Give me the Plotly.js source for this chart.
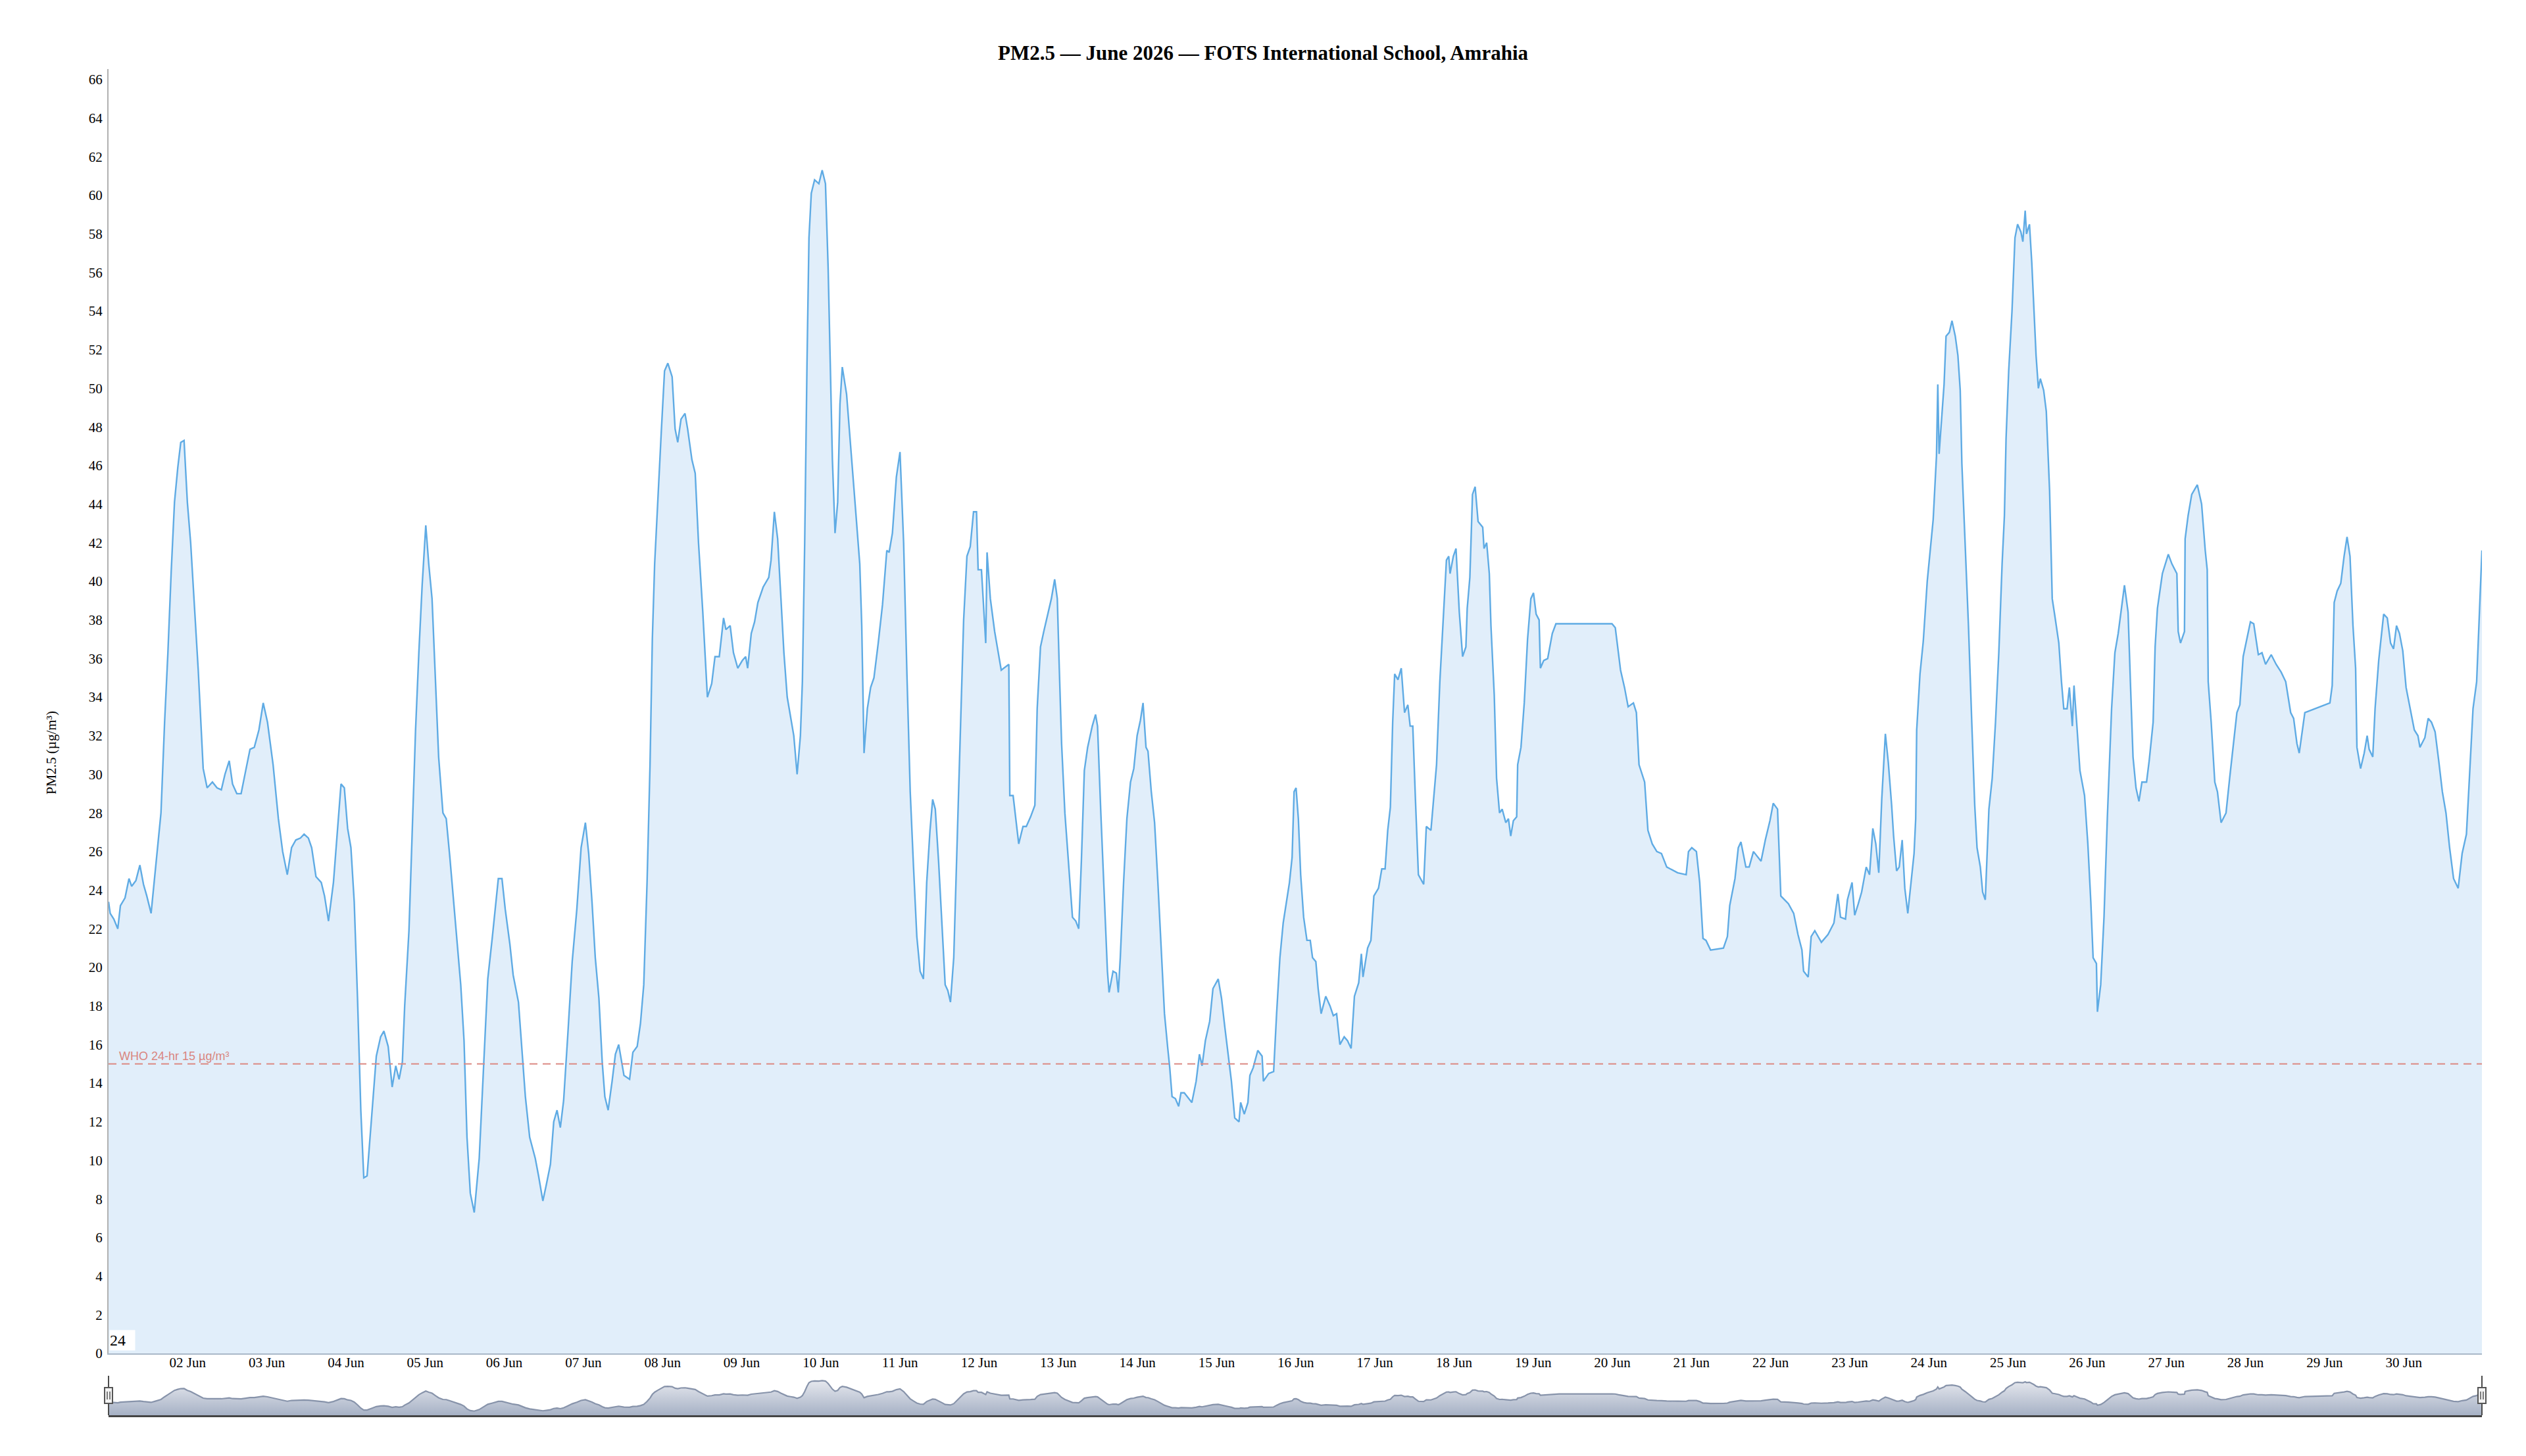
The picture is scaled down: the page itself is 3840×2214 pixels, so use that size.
<!DOCTYPE html>
<html><head><meta charset="utf-8">
<script src="https://cdn.plot.ly/plotly-3.0.1.min.js"></script>
<style>html,body{margin:0;padding:0;background:#fff}#chart{width:3840px;height:2214px}</style>
</head><body><div id="chart"></div>
<script>
// PM2.5 readings, hours since 2026-06-01 00:00
const hoursJun01 = [0,0.5,1.6,2.8,3.6,5,6.2,7,8.3,9.5,10.6,11.6,12.9,14.2,15.9,17,18,19,20,21,21.9,22.9,23.9,24.9,26.3,27.2,28.7,29.9,31.5,32.9,34.2,35.3,36.6,37.6,38.9,40.2,41.6,42.9,44.2,45.6,46.9,48.2,49.9,51.5,52.8,54.2,55.5,56.8,58.2,59.3,60.6,61.6,62.9,64.5,65.5,66.7,68.2,69.5,70.5,71.5,72.5,73.5,74.5,75.5,76.5,77.4,78.4,79.8,81.2,82.5,83.5,84.8,86,87.1,88.1,89.1,89.8,91.1,92.1,93.1,94.1,95.1,96.2,97.1,98.1,99.1,100.1,101.4,102.4];
const pmJun01 = [23.4,22.8,22.5,22.0,23.2,23.6,24.6,24.2,24.5,25.3,24.3,23.7,22.8,25.0,28.0,32.7,36.3,40.5,44.1,45.9,47.2,47.3,44.1,42.0,38.0,35.4,30.3,29.3,29.6,29.3,29.2,30.0,30.7,29.5,29.0,29.0,30.2,31.3,31.4,32.3,33.7,32.7,30.5,27.7,26.0,24.8,26.2,26.6,26.7,26.9,26.7,26.2,24.7,24.4,23.7,22.4,24.4,27.3,29.5,29.3,27.2,26.2,23.4,18.4,12.6,9.1,9.2,12.3,15.4,16.4,16.7,15.9,13.8,14.9,14.2,15.1,18.0,21.9,26.9,32.3,36.3,39.8,42.9,40.9,39.1,34.8,30.9,28.0,27.7];

const hoursJun05 = [103.5,105.1,106.8,107.8,108.7,109.7,110.9,112.4,113.7,115,116.4,118.2,119.3,120.3,121.7,122.7,124.3,125.3,126.4,127.7,129.4,130.4,131.7,132.7,134,135,136,137,138,139.3,140.6,142,143.3,144.6,145.6,146.6,147.6,148.7,149.7,150.5,151.5,152.7,153.7,154.7,156.3,158,159,160.3,161.3,162.3,163.3,164.2,164.9,165.6,166.6,167.6,168.6,169.6,170.9,171.8,172.6,173.6,174.8,175.6,176.9,177.9,178.9,180.2,181.6,182.9,183.9,185.2,186.5,187.2,188.5,189.5,190.8,192.2,193.2,193.8,194.9,195.9,196.9,198.5,200.2,200.9,201.9,202.9,203.9,204.8];
const pmJun05 = [25.7,22.6,19.1,16.2,11.2,8.3,7.3,10.1,14.8,19.4,21.6,24.6,24.6,23.0,21.2,19.6,18.2,15.8,13.3,11.2,10.1,9.2,7.9,8.7,9.8,12.0,12.6,11.7,13.1,16.6,20.3,23.0,26.2,27.5,25.9,23.4,20.5,18.4,15.1,13.3,12.6,14.1,15.5,16.0,14.4,14.2,15.6,15.9,17.1,19.1,24.4,30.5,37.0,40.9,44.5,47.7,50.9,51.3,50.6,47.9,47.2,48.4,48.7,47.9,46.3,45.6,42.0,38.4,34.0,34.7,36.1,36.1,38.1,37.5,37.7,36.3,35.5,35.9,36.1,35.5,37.3,37.9,38.9,39.7,40.2,41.1,43.6,42.2,39.1,36.3];

const hoursJun09 = [205.8,206.8,207.8,208.8,209.8,210.4,211.1,211.8,212.4,213.1,214.1,215.4,216.4,217.4,218.2,218.8,219.5,220.3,221.1,221.8,222.5,223.8,225.1,226.4,227.8,228.4,229.1,230.1,231.1,232.1,233.4,234.7,236,236.7,237.7,238.9,240,241.1,242.1,243.1,244.1,245.1,246.1,247.1,248.1,249.1,249.9,250.7,251.7,252.7,253.7,254.5,255.3,256.3,257.3,258.3,259.3,260.3,261.3,262.3,263.2,263.7,264.7,266,266.4,267.4,268.7,269.7,270.7,273,273.3,274.3,276,277.3,278.3,279.6,280.9,281.6,282.6,283.6,284.9,285.9,286.9,287.7,288.3,289,290,291,292.3,293.3,294.2,295,295.9,296.9,298.3,299.3,299.9,300.9,301.9,302.9,303.4,304.6,305.6,306.2,306.8];
const pmJun09 = [34.0,33.0,32.0,30.0,32.0,34.8,42.0,51.3,57.8,60.1,60.8,60.6,61.3,60.6,56.3,51.7,46.3,42.5,44.1,49.2,51.1,49.7,47.0,44.0,40.9,37.7,31.1,33.4,34.5,35.0,36.8,38.8,41.6,41.5,42.5,45.4,46.7,42.0,35.2,29.1,25.2,21.6,19.8,19.4,24.4,27.1,28.7,28.2,25.5,22.3,19.1,18.8,18.2,20.5,26.2,31.6,38.0,41.3,41.8,43.6,43.6,40.6,40.6,36.8,41.5,39.1,37.4,36.4,35.4,35.7,28.9,28.9,26.4,27.3,27.3,27.8,28.4,33.4,36.6,37.4,38.4,39.1,40.1,39.1,35.5,31.6,28.0,25.5,22.6,22.4,22.0,25.5,30.2,31.4,32.5,33.1,32.5,28.0,23.7,19.8,18.7,19.8,19.7,18.7,20.5];

const hoursJun13 = [307.8,308.8,309.9,310.9,311.9,312.9,313.7,314.6,315.2,316.2,317.2,318.2,319.2,320.2,321.2,321.8,322.5,323.5,324.5,325.2,326.2,327.1,328.5,329.8,330.8,331.6,332.6,333.9,334.9,336.5,337.5,338.5,339.5,340.5,341.5,342.8,343.3,344.4,345.5,346.1,347.1,348.5,349.8,350.2,351.8,353.3,354.2,355.2,356.2,357.2,358.1,358.9,359.5,360.1,360.8,361.5,362.4,363.4,364.4,365.1,366.1,366.8,367.7,369.1,370.4,371.4,372.4,373.4,374.7,375.7,376.8,377.8,379.1,379.9,380.4,381.8,382.8,383.7,385.1,386.1,387.1,387.9,388.7,389.4,390,391,392,393,394,394.7,395.5,396.3,397.2,398.8,399.6,401,402,402.7,403.7,404.7,405.7,406.4,406.8,407.8];
const pmJun13 = [24.4,27.7,29.6,30.3,32.0,32.8,33.7,31.4,31.2,29.1,27.5,24.4,20.9,17.6,15.8,14.8,13.3,13.2,12.8,13.5,13.5,13.3,13.0,14.1,15.5,14.9,16.2,17.2,18.9,19.4,18.4,16.9,15.5,14.1,12.2,12.0,13.0,12.4,13.0,14.4,14.8,15.7,15.4,14.1,14.5,14.6,17.6,20.5,22.3,23.4,24.4,25.7,29.1,29.3,27.7,24.8,22.6,21.4,21.4,20.5,20.3,18.9,17.6,18.5,18.0,17.5,17.6,16.0,16.4,16.2,15.8,18.5,19.2,20.7,19.5,21.0,21.4,23.7,24.1,25.1,25.1,27.1,28.3,32.7,35.2,34.9,35.5,33.2,33.6,32.5,32.5,28.7,24.8,24.3,27.3,27.1,29.1,30.5,34.8,38.0,41.1,41.3,40.4,41.3];

const hoursJun18 = [408.6,409.6,410.6,411.6,412,412.8,413.6,414.4,415.3,416.7,417.1,417.9,418.7,419.2,420.2,420.9,421.8,422.6,423.7,424.5,425.2,426,427,427.3,428.3,429.3,430.3,431.3,432.1,432.9,433.8,434.2,435.2,436.4,437.8,438.9,439.9,455.9,456.9,457.9,458.5,459.7,460.8,462.4,463.3,464.1,465.8,466.8,468.1,469.5,470.9,472.5,475.8,478.4,479.1,480.1,481.5,482.5,483.5,484.4,485.8,489.7,490.9,491.6,493.2,494.2,495,496.5,497.5,498.8,500.1,501.1,502.4,503.8,504.8,506.1,507.1,509.4];
const pmJun18 = [41.7,38.4,36.1,36.6,38.6,40.2,44.5,44.9,43.1,42.8,41.7,42.0,40.4,37.7,34.1,29.8,28.0,28.2,27.5,27.7,26.8,27.6,27.8,30.5,31.4,33.7,37.0,39.1,39.4,38.3,38.0,35.5,35.9,36.0,37.3,37.8,37.8,37.8,37.6,36.3,35.4,34.5,33.5,33.7,33.2,30.5,29.6,27.1,26.4,26.0,25.9,25.2,24.9,24.8,26.0,26.2,26.0,24.4,21.5,21.4,20.9,21.0,21.6,23.2,24.6,26.2,26.5,25.2,25.2,26.0,25.7,25.5,26.6,27.6,28.5,28.2,23.7,23.3];

const hoursJun22 = [511,512.3,513.5,514,515.4,516.3,517.4,519.4,521.4,523.2,524.4,525.2,526.7,527.3,528.7,529.5,530.6,531.6,533,534,535,535.9,536.8,537.7,538.8,539.7,540.7,541.3,542.2,543,543.9,544.7,545.6,546.6,547.5,548,548.3,549.3,550.3,551.5,552.3,553.3,554.3,554.7,555.1,555.9,556.6,557.2,558.2,559,560,560.8,561.5,562,563,564,565,565.9,566.6,567.6,568.3,569.1,570.2,571.2,572.2,573.2,574.2,574.9,575.4,576.2,577.2,578.1,578.9,579.9,580.5,581.2,581.6,582.5,583.2,583.8,584.5,585.2,585.8,586.8,587.6,588.6,589.4,590.2,591.4,592.2,592.9,593.9,594.6,595.5,596,596.8,597.8,599.2,600.2,601.1,601.8,602.8,603.1,604.1,605.1,606.1,607.4,608.4,609.4];
const pmJun22 = [22.8,21.7,20.9,19.8,19.5,21.6,21.9,21.3,21.7,22.3,23.8,22.6,22.5,23.5,24.4,22.7,23.3,23.9,25.2,24.8,27.2,26.4,24.9,28.7,32.1,30.6,28.4,26.8,25.0,25.2,26.6,24.1,22.8,24.4,25.9,27.7,32.3,35.2,36.9,40.0,41.4,43.2,46.5,50.2,46.6,48.4,50.2,52.7,52.9,53.5,52.7,51.7,49.9,46.1,42.0,37.7,32.7,28.4,26.2,25.2,23.9,23.5,28.2,29.8,32.7,36.3,40.9,43.4,47.4,50.9,54.0,57.8,58.5,58.1,57.6,59.2,58.0,58.5,56.5,54.5,51.7,50.0,50.5,49.9,48.8,44.7,39.1,38.2,36.8,34.8,33.4,33.4,34.5,32.5,34.6,32.7,30.2,28.9,26.4,23.4,20.5,20.2,17.7,19.1,22.6,27.7,33.4,36.3,37.3];

const hoursJun26 = [611.3,612.4,613.1,613.9,614.8,615.7,616.6,618,618.8,620,620.6,621.3,622.8,624.6,625.7,627.2,627.6,628.3,629.5,629.7,630.6,631.7,633.4,634.7,635.8,636.4,636.7,637.6,638.7,639.5,640.6,642.1,643.2,644.3,645.4,646.3,647.3,648.4,649.5,650.5,651.9,653,654.1,655.8,657.3,658.8,660.2,661.7,662.6,663.6,664.3,666,673.6,674.3,674.9,675.8,676.9,677.9,678.8,679.7,680.6,681.4,681.8,682.9,684,684.9,685.5,686.6,687.3,688.4,689.9,691,692,692.9,693.8,694.7,695.7,696.7,698.1,699.2,700.3,700.9,702.4,703.4,704.4,705.5,706.6,707.7,708.8,709.9,711.1,712.5,713.7,715,715.9,717,718.1,719.2,719.7];
const pmJun26 = [39.8,38.4,34.8,30.9,29.3,28.6,29.6,29.6,30.7,32.7,36.6,38.6,40.4,41.4,40.9,40.4,37.4,36.8,37.4,42.2,43.4,44.5,45.0,44.0,41.6,40.6,34.8,32.7,29.6,29.1,27.5,28.0,29.8,31.4,33.2,33.6,36.1,37.0,37.9,37.8,36.2,36.3,35.7,36.2,35.7,35.3,34.8,33.2,32.9,31.6,31.1,33.2,33.7,34.6,38.9,39.5,39.9,41.3,42.3,41.3,37.7,35.5,31.4,30.3,31.1,32.0,31.3,30.9,33.4,35.9,38.3,38.1,36.8,36.5,37.7,37.3,36.4,34.5,33.2,32.3,32.0,31.4,31.9,32.9,32.7,32.2,30.7,29.1,28.0,26.2,24.6,24.1,25.9,26.9,29.8,33.4,34.8,39.1,41.6];

const whoLimit = 15;
const whoLabel = 'WHO 24-hr 15 µg/m³';
const titleText = 'PM2.5 — June 2026 — FOTS International School, Amrahia';
const yTitle = 'PM2.5 (µg/m³)';
const cornerLabel = '24';

const hours = [].concat(hoursJun01, hoursJun05, hoursJun09, hoursJun13, hoursJun18, hoursJun22, hoursJun26);
const pm25 = [].concat(pmJun01, pmJun05, pmJun09, pmJun13, pmJun18, pmJun22, pmJun26);

function pad(n){ return String(n).padStart(2,'0'); }
function stamp(h){
  const d = new Date(Date.UTC(2026,5,1,0,0,0) + Math.round(h*60)*60000);
  return d.getUTCFullYear()+'-'+pad(d.getUTCMonth()+1)+'-'+pad(d.getUTCDate())+' '+pad(d.getUTCHours())+':'+pad(d.getUTCMinutes());
}
const n = Math.min(hours.length, pm25.length);
const xs = hours.slice(0,n).map(stamp);
const ys = pm25.slice(0,n);
const xRange = [xs[0], xs[n-1]];
const tickDays = [];
for (let d = 2; d <= 30; d++) tickDays.push('2026-06-' + pad(d));

const serif = 'Liberation Serif, Times New Roman, serif';

const mainTrace = {
  x: xs, y: ys, type: 'scatter', mode: 'lines',
  line: {color: '#5fabe4', width: 2.4},
  fill: 'tozeroy', fillcolor: '#e1eefa',
  hoverinfo: 'skip', xaxis: 'x', yaxis: 'y'
};
const navTrace = {
  x: xs, y: ys, type: 'scatter', mode: 'lines',
  line: {color: '#8793aa', width: 2.2},
  fill: 'tozeroy',
  fillgradient: {type: 'vertical', colorscale: [[0, '#a6b1c5'], [1, '#e6e8ee']], start: 0, stop: 62},
  hoverinfo: 'skip', xaxis: 'x2', yaxis: 'y2'
};

// paper helpers for navigator decorations (plot area: 105..2152 px tall 2047, 165..3773 wide 3608)
const PH = 2047, PW = 3608, PB = 2152, PL = 165;
const py = v => (PB - v) / PH;
const px = v => v / PW;
const navTop = py(2092);
function handleShapes(xp){
  return [
    {type:'line', xref:'paper', yref:'paper', x0:xp, x1:xp, y0:0, y1:navTop, line:{color:'#4a4a4a', width:2}},
    {type:'rect', xref:'paper', yref:'paper', x0:xp-px(6), x1:xp+px(6), y0:py(2134), y1:py(2110), fillcolor:'#f2f2f2', line:{color:'#555', width:2}},
    {type:'line', xref:'paper', yref:'paper', x0:xp-px(2), x1:xp-px(2), y0:py(2128), y1:py(2116), line:{color:'#555', width:1.5}},
    {type:'line', xref:'paper', yref:'paper', x0:xp+px(2), x1:xp+px(2), y0:py(2128), y1:py(2116), line:{color:'#555', width:1.5}}
  ];
}

const layout = {
  width: 3840, height: 2214,
  margin: {l: 165, r: 67, t: 105, b: 62, pad: 0},
  paper_bgcolor: '#ffffff', plot_bgcolor: '#ffffff',
  showlegend: false,
  font: {family: serif, size: 21, color: '#000'},
  title: {text: '<b>' + titleText + '</b>', font: {family: serif, size: 31, color: '#000'},
          x: 0.5, xanchor: 'center', xref: 'container', y: 1 - 80/2214, yref: 'container', yanchor: 'middle'},
  xaxis: {
    domain: [0, 1], anchor: 'y', type: 'date', range: xRange,
    showline: true, linecolor: '#a9b8c8', linewidth: 2,
    showgrid: false, zeroline: false, ticks: '',
    tickvals: tickDays, tickformat: '%d %b', ticklabelstandoff: -6,
    tickfont: {family: serif, size: 21, color: '#000'}, fixedrange: true
  },
  yaxis: {
    domain: [1 - 1953/2047, 1], anchor: 'x', range: [0, 66.54],
    tick0: 0, dtick: 2,
    showline: true, linecolor: '#b0b0b0', linewidth: 2,
    showgrid: false, zeroline: false,
    ticks: 'outside', ticklen: 3, tickcolor: 'rgba(0,0,0,0)',
    tickfont: {family: serif, size: 21, color: '#000'},
    fixedrange: true
  },
  xaxis2: {
    domain: [0, 1], anchor: 'y2', type: 'date', range: xRange,
    showline: true, linecolor: '#444', linewidth: 3,
    showgrid: false, zeroline: false, ticks: '', showticklabels: false, fixedrange: true
  },
  yaxis2: {
    domain: [0, navTop], anchor: 'x2', range: [0, 70],
    showline: false, showgrid: false, zeroline: false, ticks: '', showticklabels: false, fixedrange: true
  },
  shapes: [
    {type: 'line', xref: 'paper', yref: 'y', x0: 0, x1: 1, y0: whoLimit, y1: whoLimit,
     line: {color: '#dc8a84', width: 2, dash: '12px,8px'}}
  ].concat(handleShapes(0), handleShapes(1)),
  annotations: [
    {xref: 'paper', yref: 'paper', x: px(78 - PL), y: py(1145), xanchor: 'center', yanchor: 'middle',
     text: yTitle, textangle: -90, showarrow: false, font: {family: serif, size: 21, color: '#000'}},
    {xref: 'paper', yref: 'y', x: 0, y: whoLimit, xanchor: 'left', yanchor: 'bottom', xshift: 14, yshift: 0,
     text: whoLabel, showarrow: false, font: {family: 'Liberation Sans, Arial, sans-serif', size: 18, color: '#d98680'}},
    {xref: 'paper', yref: 'y', x: 0, y: 0, xanchor: 'left', yanchor: 'bottom', xshift: 1, yshift: 4,
     text: cornerLabel, showarrow: false, bgcolor: '#ffffff', width: 38, height: 30, align: 'left', valign: 'middle',
     borderpad: 0, font: {family: serif, size: 24, color: '#000'}}
  ]
};

Plotly.newPlot('chart', [mainTrace, navTrace], layout, {displayModeBar: false, staticPlot: true});
</script></body></html>
